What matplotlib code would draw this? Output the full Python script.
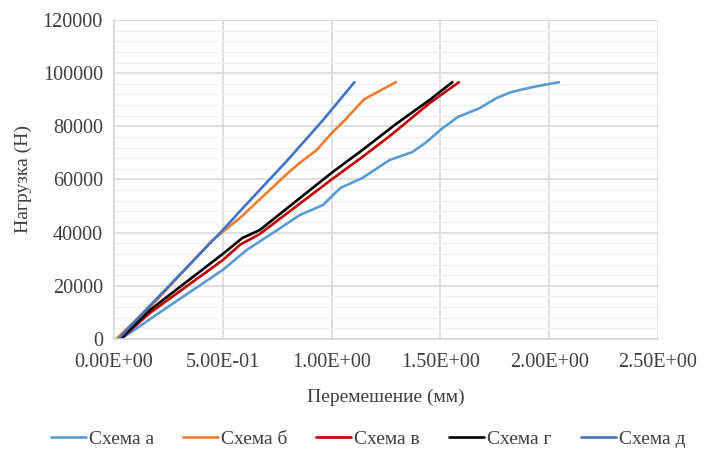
import matplotlib
matplotlib.use("Agg")
import matplotlib.pyplot as plt
from matplotlib.ticker import MultipleLocator, FuncFormatter

# Data (displacement mm, load N)
x_a = [0.03, 0.074, 0.21, 0.50, 0.61, 0.73, 0.853, 0.96, 1.04, 1.14, 1.266, 1.37, 1.43, 1.51, 1.58, 1.68, 1.757, 1.826, 1.92, 2.045]
y_a = [0, 2300, 10000, 26000, 33500, 39900, 46600, 50400, 56800, 60500, 67300, 70300, 73700, 79300, 83500, 86800, 90600, 92900, 94700, 96600]

x_b = [0.01, 0.10, 0.20, 0.45, 0.578, 0.65, 0.80, 0.853, 0.93, 1.00, 1.06, 1.15, 1.295]
y_b = [0, 7000, 15000, 37000, 45500, 51000, 62500, 66200, 71000, 77400, 82300, 90200, 96600]

x_v = [0.03, 0.165, 0.50, 0.58, 0.67, 1.00, 1.14, 1.27, 1.45, 1.585]
y_v = [0, 9800, 29700, 35500, 39500, 60000, 68400, 76500, 88700, 96600]

x_g = [0.03, 0.165, 0.50, 0.59, 0.67, 1.00, 1.14, 1.298, 1.45, 1.555]
y_g = [0, 10900, 32000, 38000, 41000, 62500, 71000, 81000, 89900, 96600]

x_d = [0.02, 0.10, 0.20, 0.50, 0.578, 0.80, 0.96, 1.105]
y_d = [0, 7000, 15500, 41000, 48000, 67500, 82300, 96600]

series_names = ["Схема а", "Схема б", "Схема в", "Схема г", "Схема д"]
colors = ["#5B9BD5", "#ED7D31", "#C00000", "#000000", "#4472C4"]

plt.rcParams['font.family'] = ['Liberation Serif', 'DejaVu Serif']

fig = plt.figure(figsize=(7.06, 4.51), dpi=100)
ax = fig.add_axes([0.1615, 0.2483, 0.7705, 0.7074])

for xs, ys, name, c in zip([x_a, x_b, x_v, x_g, x_d], [y_a, y_b, y_v, y_g, y_d], series_names, colors):
    ax.plot(xs, ys, color=c, lw=1.9, label=name, solid_capstyle='round')

ax.set_xlim(0, 2.5)
ax.set_ylim(0, 120000)
ax.xaxis.set_major_locator(MultipleLocator(0.5))
ax.yaxis.set_major_locator(MultipleLocator(20000))
ax.yaxis.set_minor_locator(MultipleLocator(4000))
ax.xaxis.set_major_formatter(FuncFormatter(lambda v, p: f"{v:.2E}"))
ax.yaxis.set_major_formatter(FuncFormatter(lambda v, p: f"{int(v)}"))

ax.grid(True, which='major', color='#D9D9D9', lw=1.2)
ax.grid(True, which='minor', axis='y', color='#EFEFEF', lw=1.0)
ax.set_axisbelow(True)
for s in ['top', 'right']:
    ax.spines[s].set_visible(False)
for s in ['left', 'bottom']:
    ax.spines[s].set_color('#D9D9D9')
    ax.spines[s].set_linewidth(1.2)
ax.tick_params(which='both', length=0, labelsize=14.5, colors='#404040')
ax.tick_params(axis='x', pad=10)
ax.tick_params(axis='y', pad=8)

ax.set_xlabel("Перемешение (мм)", fontsize=14, color='#404040', labelpad=12)
ax.set_ylabel("Нагрузка (Н)", fontsize=14, color='#404040', labelpad=8)

leg = fig.legend(loc='center', bbox_to_anchor=(0.521, 0.027), ncol=5, frameon=False,
                 fontsize=14, handlelength=1.8, handletextpad=0.15, columnspacing=1.5)
for t in leg.get_texts():
    t.set_color('#404040')

fig.savefig("out.png", dpi=100)
